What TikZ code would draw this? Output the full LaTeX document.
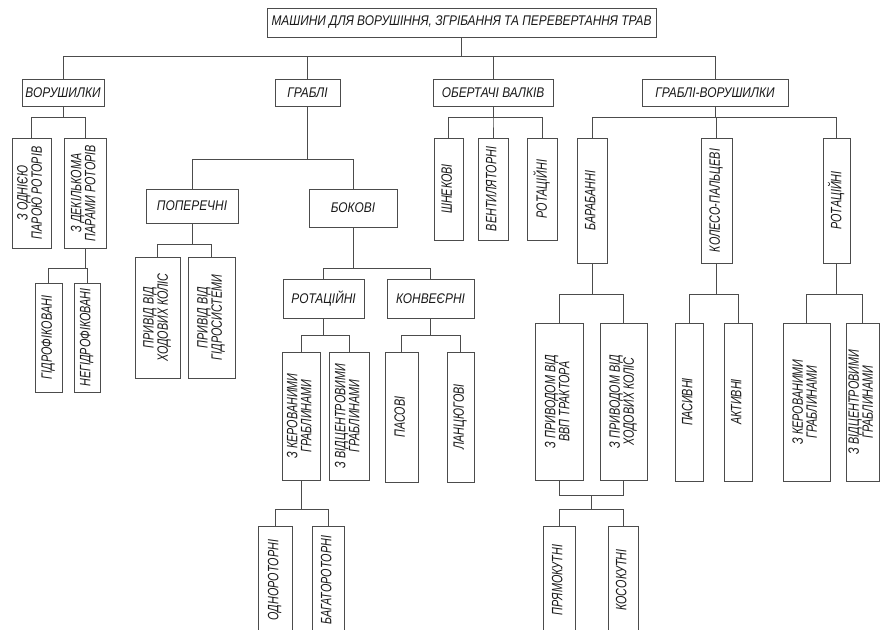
\documentclass[tikz,border=0pt]{standalone}
\usepackage{fontspec}
\setmainfont{Liberation Sans}[FakeStretch=0.85]
\newfontfamily\vfont{Liberation Sans}[FakeStretch=0.72]
\usetikzlibrary{calc}
\newcommand\mybox[6]{\node[box, minimum width={(#4-#2)*1pt}, minimum height={(#5-#3)*1pt}] (#1) at ({(#2+#4)/2},{(#3+#5)/2}) {#6};}
\newcommand\myvbox[6]{\node[box, vtext, minimum width={(#4-#2)*1pt}, minimum height={(#5-#3)*1pt}] (#1) at ({(#2+#4)/2},{(#3+#5)/2}) {\rotatebox{90}{\begin{tabular}{@{}c@{}}#6\end{tabular}}};}
\newcommand\mytree[3]{\foreach \c in {#3} {\draw[link] (#1.south) |- ($(\c.north)+(0pt,#2pt)$) -- (\c.north);}}
\begin{document}
\begin{tikzpicture}[x=1pt,y=-1pt,
  box/.style={draw=black!70, line width=1pt, fill=white, inner sep=0pt, font=\fontsize{14}{13}\selectfont\itshape, text=black!90},
  vtext/.style={font=\vfont\fontsize{15}{12.5}\selectfont\itshape},
  link/.style={draw=black!70, line width=1pt}]
\renewcommand\arraystretch{1}
\setlength\tabcolsep{0pt}
\path[use as bounding box, fill=white] (0,0) rectangle (880,629);
\clip (0,0) rectangle (880,629);
\mybox{root}{267}{8}{656}{37}{МАШИНИ ДЛЯ ВОРУШІННЯ, ЗГРІБАННЯ ТА ПЕРЕВЕРТАННЯ ТРАВ}
\mybox{vor}{22}{79}{104}{106}{ВОРУШИЛКИ}
\mybox{gra}{275}{79}{340}{106}{ГРАБЛІ}
\mybox{obe}{433}{79}{553}{106}{ОБЕРТАЧІ ВАЛКІВ}
\mybox{grv}{642}{79}{788}{106}{ГРАБЛІ-ВОРУШИЛКИ}
% ВОРУШИЛКИ
\myvbox{v1}{12}{138}{51}{248}{З ОДНІЄЮ\\ПАРОЮ РОТОРІВ}
\myvbox{v2}{64}{138}{106}{248}{З ДЕКІЛЬКОМА\\ПАРАМИ РОТОРІВ}
\myvbox{v21}{35}{283}{62}{392}{ГІДРОФІКОВАНІ}
\myvbox{v22}{74}{283}{100}{392}{НЕГІДРОФІКОВАНІ}
% ГРАБЛІ
\mybox{pop}{146}{189}{238}{223}{ПОПЕРЕЧНІ}
\mybox{bok}{309}{189}{397}{227}{БОКОВІ}
\myvbox{p1}{135}{257}{180}{378}{ПРИВІД ВІД\\ХОДОВИХ КОЛІС}
\myvbox{p2}{188}{257}{235}{378}{ПРИВІД ВІД\\ГІДРОСИСТЕМИ}
\mybox{rot}{283}{279}{364}{318}{РОТАЦІЙНІ}
\mybox{kon}{387}{279}{474}{318}{КОНВЕЄРНІ}
\myvbox{r1}{282}{352}{320}{480}{З КЕРОВАНИМИ\\ГРАБЛИНАМИ}
\myvbox{r2}{329}{352}{369}{480}{З ВІДЦЕНТРОВИМИ\\ГРАБЛИНАМИ}
\myvbox{k1}{385}{352}{418}{482}{ПАСОВІ}
\myvbox{k2}{447}{352}{474}{482}{ЛАНЦЮГОВІ}
\myvbox{r11}{258}{526}{292}{634}{ОДНОРОТОРНІ}
\myvbox{r12}{312}{526}{344}{634}{БАГАТОРОТОРНІ}
% ОБЕРТАЧІ
\myvbox{o1}{434}{138}{463}{240}{ШНЕКОВІ}
\myvbox{o2}{478}{138}{508}{240}{ВЕНТИЛЯТОРНІ}
\myvbox{o3}{527}{138}{557}{240}{РОТАЦІЙНІ}
% ГРАБЛІ-ВОРУШИЛКИ
\myvbox{g1}{577}{138}{607}{263}{БАРАБАННІ}
\myvbox{g2}{701}{138}{732}{263}{КОЛЕСО-ПАЛЬЦЕВІ}
\myvbox{g3}{823}{138}{850}{263}{РОТАЦІЙНІ}
\myvbox{g11}{535}{323}{583}{480}{З ПРИВОДОМ ВІД\\ВВП ТРАКТОРА}
\myvbox{g12}{600}{323}{647}{480}{З ПРИВОДОМ ВІД\\ХОДОВИХ КОЛІС}
\myvbox{pr}{543}{526}{575}{634}{ПРЯМОКУТНІ}
\myvbox{ko}{608}{526}{638}{634}{КОСОКУТНІ}
\myvbox{g21}{675}{323}{703}{481}{ПАСИВНІ}
\myvbox{g22}{724}{323}{752}{481}{АКТИВНІ}
\myvbox{g31}{783}{323}{830}{481}{З КЕРОВАНИМИ\\ГРАБЛИНАМИ}
\myvbox{g32}{846}{323}{879}{481}{З ВІДЦЕНТРОВИМИ\\ГРАБЛИНАМИ}
% connectors
\mytree{root}{22}{vor,gra,obe,grv}
\mytree{vor}{20}{v1,v2}
\mytree{v2}{14}{v21,v22}
\mytree{gra}{29}{pop,bok}
\mytree{pop}{12}{p1,p2}
\mytree{bok}{10}{rot,kon}
\mytree{rot}{16}{r1,r2}
\mytree{kon}{16}{k1,k2}
\mytree{r1}{16}{r11,r12}
\mytree{obe}{20}{o1,o2,o3}
\mytree{grv}{20}{g1,g2,g3}
\mytree{g1}{28}{g11,g12}
\mytree{g2}{28}{g21,g22}
\mytree{g3}{28}{g31,g32}
\coordinate (j) at ($(g11.south)!0.5!(g12.south)+(0pt,-15pt)$);
\draw[link] (g11.south) |- (j) -| (g12.south);
\foreach \c in {pr,ko} {\draw[link] (j) |- ($(\c.north)+(0pt,16pt)$) -- (\c.north);}
\end{tikzpicture}
\end{document}
